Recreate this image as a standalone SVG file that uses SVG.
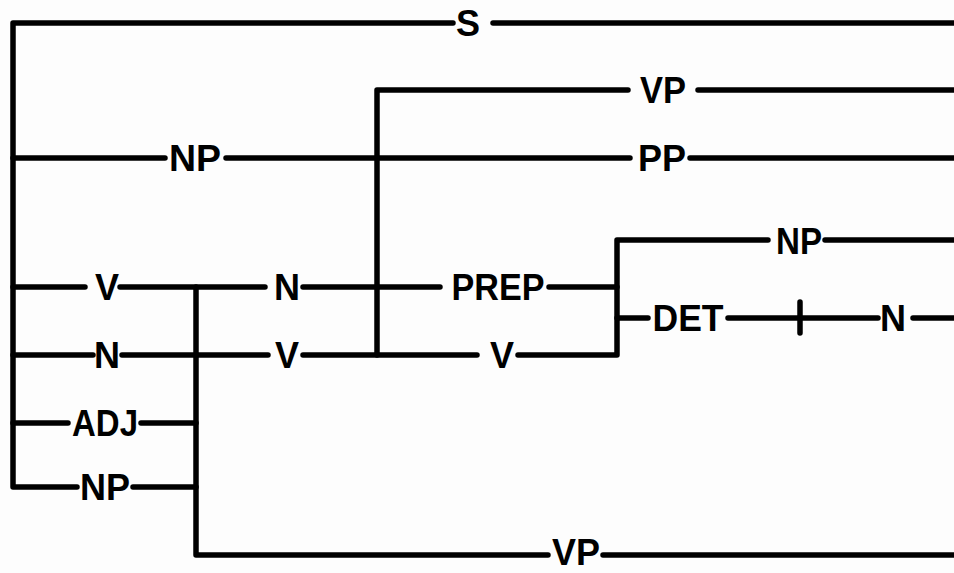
<svg xmlns="http://www.w3.org/2000/svg" width="954" height="573" viewBox="0 0 954 573">
<style>
.c{fill:none;stroke:#000;stroke-width:5.5;stroke-linecap:round;stroke-linejoin:round}
.t{font-family:"Liberation Sans",Arial,sans-serif;font-weight:bold;font-size:36px;text-anchor:middle;fill:#000}
</style>
<rect width="954" height="573" fill="#fdfdfd"/>
<g id="connectors" class="c">
<path d="M453 23H13V487H77"/>
<path d="M493 23H954"/>
<path d="M13 158H165M226 158H630M690 158H954"/>
<path d="M377 355V90H628M698 90H954"/>
<path d="M13 287H85M120 287H265M303 287H440M549 287H617"/>
<path d="M13 355H93M122 355H268M303 355H477M518 355H617V240H768M825 240H954"/>
<path d="M617 318H648M728 318H878M800 302V333M913 318H954"/>
<path d="M13 423H68M141 423H196M133 487H196"/>
<path d="M196 287V555H548M603 555H954"/>
</g>
<g id="n-S"><text class="t" x="468" y="36">S</text></g>
<g id="n-VP1"><text class="t" x="663" y="103" textLength="46" lengthAdjust="spacingAndGlyphs">VP</text></g>
<g id="n-NP1"><text class="t" x="195" y="171" textLength="52" lengthAdjust="spacingAndGlyphs">NP</text></g>
<g id="n-PP"><text class="t" x="662" y="171" textLength="48" lengthAdjust="spacingAndGlyphs">PP</text></g>
<g id="n-NP2"><text class="t" x="799" y="254" textLength="46" lengthAdjust="spacingAndGlyphs">NP</text></g>
<g id="n-V1"><text class="t" x="107" y="300">V</text></g>
<g id="n-N1"><text class="t" x="287" y="300">N</text></g>
<g id="n-PREP"><text class="t" x="498" y="300" textLength="93" lengthAdjust="spacingAndGlyphs">PREP</text></g>
<g id="n-DET"><text class="t" x="688" y="331" textLength="71" lengthAdjust="spacingAndGlyphs">DET</text></g>
<g id="n-N3"><text class="t" x="893" y="331">N</text></g>
<g id="n-N2"><text class="t" x="107" y="368">N</text></g>
<g id="n-V2"><text class="t" x="287" y="368">V</text></g>
<g id="n-V3"><text class="t" x="502" y="368">V</text></g>
<g id="n-ADJ"><text class="t" x="105" y="436" textLength="66" lengthAdjust="spacingAndGlyphs">ADJ</text></g>
<g id="n-NP3"><text class="t" x="105" y="500" textLength="50" lengthAdjust="spacingAndGlyphs">NP</text></g>
<g id="n-VP2"><text class="t" x="576" y="565" textLength="48" lengthAdjust="spacingAndGlyphs">VP</text></g>
</svg>
